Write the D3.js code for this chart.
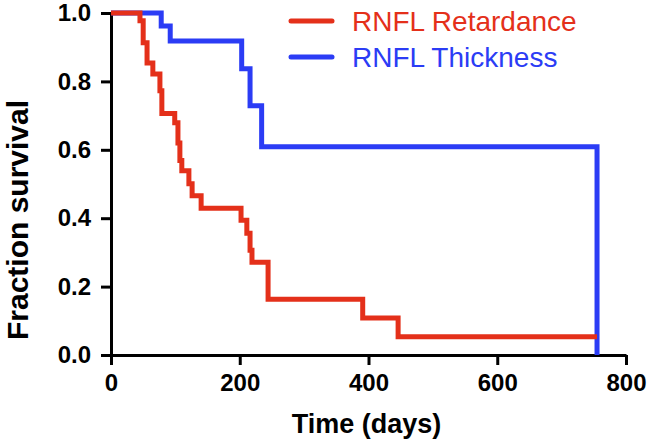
<!DOCTYPE html>
<html>
<head>
<meta charset="utf-8">
<script src="https://cdn.jsdelivr.net/npm/d3@7"></script>
<style>
  body { margin: 0; background: #fff; }
  svg text { font-family: "Liberation Sans", Arial, sans-serif; }
</style>
</head>
<body>
<script>
const svgWidth = 650;
const svgHeight = 446;

// Kaplan-Meier steps
const retardanceDays = [0, 45, 50, 56, 65, 76, 79, 99, 104, 107, 110, 121, 126, 140, 202, 211, 216, 219, 244, 391, 446, 755];
const retardanceSurv = [1, 0.977, 0.913, 0.854, 0.822, 0.773, 0.706, 0.679, 0.62, 0.569, 0.539, 0.501, 0.466, 0.429, 0.394, 0.356, 0.306, 0.271, 0.163, 0.108, 0.053, 0.053];

const thicknessDays = [0, 78, 92, 203, 216, 234, 755];
const thicknessSurv = [1, 0.962, 0.918, 0.837, 0.729, 0.609, 0];

const xTicks = [0, 200, 400, 600, 800];
const yTicks = [0, 0.2, 0.4, 0.6, 0.8, 1.0];

const seriesNames = ["RNFL Retardance", "RNFL Thickness"];
const red = "#e4301a";
const blue = "#2b3cf5";

const svg = d3.select("body")
  .append("svg")
  .attr("width", svgWidth)
  .attr("height", svgHeight);

const x = d3.scaleLinear().domain([0, 800]).range([111, 626]);
const y = d3.scaleLinear().domain([0, 1]).range([355, 13]);

// axes
const xAxis = svg.append("g")
  .attr("transform", `translate(0,${y(0)})`)
  .call(d3.axisBottom(x).tickValues(xTicks).tickSize(10).tickSizeOuter(0).tickPadding(9).tickFormat(d3.format("d")));

const yAxis = svg.append("g")
  .attr("transform", `translate(${x(0)},0)`)
  .call(d3.axisLeft(y).tickValues(yTicks).tickSize(10).tickSizeOuter(0).tickPadding(10).tickFormat(d3.format(".1f")));

[xAxis, yAxis].forEach(a => {
  a.select(".domain").attr("stroke", "#000").attr("stroke-width", 3);
  a.selectAll(".tick line").attr("stroke", "#000").attr("stroke-width", 3);
  a.selectAll(".tick text")
    .attr("fill", "#000")
    .style("font-size", "24px")
    .style("font-weight", "bold")
    .style("font-family", "'Liberation Sans', Arial, sans-serif");
});

// axis titles
svg.append("text")
  .attr("x", x(400) - 2)
  .attr("y", 433)
  .attr("text-anchor", "middle")
  .style("font-size", "27px")
  .style("font-weight", "bold")
  .text("Time (days)");

svg.append("text")
  .attr("transform", `translate(28,${220}) rotate(-90)`)
  .attr("text-anchor", "middle")
  .style("font-size", "30px")
  .style("font-weight", "bold")
  .text("Fraction survival");

// survival curves
const stepLine = d3.line()
  .x(d => x(d[0]))
  .y(d => y(d[1]))
  .curve(d3.curveStepAfter);

const thicknessPts = d3.zip(thicknessDays, thicknessSurv);
const retardancePts = d3.zip(retardanceDays, retardanceSurv);

svg.append("path")
  .datum(thicknessPts)
  .attr("d", stepLine)
  .attr("fill", "none")
  .attr("stroke", blue)
  .attr("stroke-width", 5);

svg.append("path")
  .datum(retardancePts)
  .attr("d", stepLine)
  .attr("fill", "none")
  .attr("stroke", red)
  .attr("stroke-width", 5);

// legend
const legend = svg.append("g");
[red, blue].forEach((c, i) => {
  const ly = 21 + i * 36;
  legend.append("line")
    .attr("x1", 291).attr("x2", 332)
    .attr("y1", ly).attr("y2", ly)
    .attr("stroke", c)
    .attr("stroke-width", 5)
    .attr("stroke-linecap", "round");
  legend.append("text")
    .attr("x", 352)
    .attr("y", ly + 10)
    .attr("fill", c)
    .style("font-size", "28px")
    .text(seriesNames[i]);
});
</script>
</body>
</html>
